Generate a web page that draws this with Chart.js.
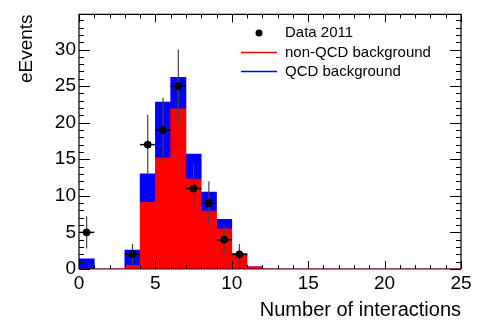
<!DOCTYPE html>
<html>
<head>
<meta charset="utf-8">
<script src="https://cdn.jsdelivr.net/npm/chart.js@4"></script>
<style>
  html, body { margin: 0; padding: 0; background: #fff; }
  #wrap { width: 482px; height: 322px; }
</style>
</head>
<body>
<div id="wrap"><canvas id="nint" width="482" height="322"></canvas></div>
<script>
const FONT = '"Liberation Sans", Arial, Helvetica, sans-serif';

// bin centres of the 25 unit-wide bins (0..25)
const binCenters = [0.5, 1.5, 2.5, 3.5, 4.5, 5.5, 6.5, 7.5, 8.5, 9.5, 10.5, 11.5, 12.5,
                    13.5, 14.5, 15.5, 16.5, 17.5, 18.5, 19.5, 20.5, 21.5, 22.5, 23.5, 24.5];

// stacked MC: non-QCD (red) at the bottom, QCD (blue) on top
const nonQcd = [0, 0, 0, 0.5, 9.1, 15.2, 21.9, 12.3, 7.9, 5.5, 1.9, 0.3, 0,
                0, 0, 0, 0, 0, 0, 0, 0, 0, 0, 0, 0];
const qcd    = [1.4, 0, 0, 2.1, 3.9, 7.6, 4.3, 3.4, 2.6, 1.3, 0.2, 0, 0,
                0, 0, 0, 0, 0, 0, 0, 0, 0, 0, 0, 0];

// Data 2011 (empty bins have no marker)
const dataCounts = [5, null, null, 2, 17, 19, 25, 11, 9, 4, 2, null, null,
                    null, null, null, null, null, null, null, null, null, null, null, null];
const dataErr    = [2.2, 0, 0, 1.4, 4.1, 4.4, 5, 3.3, 3, 2, 1.4, 0, 0,
                    0, 0, 0, 0, 0, 0, 0, 0, 0, 0, 0, 0];

const xTicks = [0, 5, 10, 15, 20, 25];
const yTicks = [0, 5, 10, 15, 20, 25, 30];

// error bars, frame with ROOT style ticks, legend
const rootStyle = {
    id: 'rootStyle',
    beforeDatasetDraw(chart, args) {
        if (args.index !== 2) return;
        const ctx = chart.ctx, xs = chart.scales.x, ys = chart.scales.y;
        ctx.save();
        binCenters.forEach((c, i) => {
            if (dataCounts[i] === null) return;
            const px = xs.getPixelForValue(c);
            const py = ys.getPixelForValue(dataCounts[i]);
            ctx.strokeStyle = '#444';
            ctx.lineWidth = 1.2;
            ctx.beginPath();
            ctx.moveTo(px, ys.getPixelForValue(dataCounts[i] - dataErr[i]));
            ctx.lineTo(px, ys.getPixelForValue(dataCounts[i] + dataErr[i]));
            ctx.stroke();
            ctx.strokeStyle = '#000';
            ctx.lineWidth = 1.5;
            ctx.beginPath();
            ctx.moveTo(xs.getPixelForValue(c - 0.5), py);
            ctx.lineTo(xs.getPixelForValue(c + 0.5), py);
            ctx.stroke();
        });
        ctx.restore();
    },
    afterDraw(chart) {
        const ctx = chart.ctx, a = chart.chartArea;
        const xs = chart.scales.x, ys = chart.scales.y;
        ctx.save();
        ctx.lineWidth = 1.2;
        ctx.strokeStyle = '#000';
        ctx.beginPath();
        ctx.moveTo(a.left, a.bottom);
        ctx.lineTo(a.left, a.top);
        ctx.lineTo(a.right, a.top);
        ctx.lineTo(a.right, a.bottom);
        ctx.stroke();
        ctx.strokeStyle = '#5a0000';
        ctx.beginPath();
        ctx.moveTo(a.left, a.bottom);
        ctx.lineTo(a.right, a.bottom);
        ctx.stroke();

        ctx.strokeStyle = '#000';
        ctx.lineWidth = 1;
        ctx.beginPath();
        for (let v = 0; v <= 25; v++) {
            const px = Math.round(xs.getPixelForValue(v)) + 0.5;
            const len = v % 5 === 0 ? 8 : 4;
            ctx.moveTo(px, a.bottom); ctx.lineTo(px, a.bottom - len);
            ctx.moveTo(px, a.top); ctx.lineTo(px, a.top + len);
        }
        for (let v = 0; v <= 34; v++) {
            const py = Math.round(ys.getPixelForValue(v)) + 0.5;
            const len = v % 5 === 0 ? 11 : 5;
            ctx.moveTo(a.left, py); ctx.lineTo(a.left + len, py);
            ctx.moveTo(a.right, py); ctx.lineTo(a.right - len, py);
        }
        ctx.stroke();

        // legend
        ctx.fillStyle = '#000';
        ctx.beginPath();
        ctx.arc(259, 33, 3.5, 0, Math.PI * 2);
        ctx.fill();
        ctx.lineWidth = 1.5;
        ctx.strokeStyle = '#ff0000';
        ctx.beginPath(); ctx.moveTo(241, 52.5); ctx.lineTo(277, 52.5); ctx.stroke();
        ctx.strokeStyle = '#0000ff';
        ctx.beginPath(); ctx.moveTo(241, 71.5); ctx.lineTo(277, 71.5); ctx.stroke();
        ctx.font = '15px ' + FONT;
        ctx.textBaseline = 'middle';
        ctx.fillText('Data 2011', 285, 33);
        ctx.fillText('non-QCD background', 285, 52.5);
        ctx.fillText('QCD background', 285, 71.5);
        ctx.restore();
    }
};

const ctx = document.getElementById('nint').getContext('2d');
new Chart(ctx, {
    type: 'bar',
    data: {
        datasets: [
            {
                label: 'non-QCD background',
                data: binCenters.map((c, i) => ({ x: c, y: nonQcd[i] })),
                backgroundColor: '#ff0000',
                borderWidth: 0,
                barPercentage: 1,
                categoryPercentage: 1,
                stack: 'mc',
                order: 1
            },
            {
                label: 'QCD background',
                data: binCenters.map((c, i) => ({ x: c, y: qcd[i] })),
                backgroundColor: '#0000ff',
                borderWidth: 0,
                barPercentage: 1,
                categoryPercentage: 1,
                stack: 'mc',
                order: 2
            },
            {
                type: 'scatter',
                label: 'Data 2011',
                data: binCenters.map((c, i) => ({ x: c, y: dataCounts[i] })),
                backgroundColor: '#000',
                borderColor: '#000',
                pointRadius: 3.5,
                pointHoverRadius: 3.5,
                stack: 'data',
                order: 0
            }
        ]
    },
    options: {
        responsive: false,
        animation: false,
        devicePixelRatio: 1,
        layout: { padding: { top: 7, right: 21, left: 0, bottom: 0 } },
        plugins: { legend: { display: false }, tooltip: { enabled: false } },
        scales: {
            x: {
                type: 'linear',
                min: 0,
                max: 25,
                offset: false,
                stacked: true,
                grid: { display: false, drawTicks: false },
                border: { display: false },
                afterBuildTicks: s => { s.ticks = xTicks.map(v => ({ value: v })); },
                ticks: { color: '#000', font: { family: FONT, size: 19 }, padding: 3, maxRotation: 0, autoSkip: false },
                title: {
                    display: true, text: 'Number of interactions', align: 'end', color: '#000',
                    font: { family: FONT, size: 20 }, padding: { top: 9, bottom: 0 }
                },
                afterFit: s => { s.height = 53; }
            },
            y: {
                min: 0,
                max: 34.8,
                stacked: true,
                grid: { display: false, drawTicks: false },
                border: { display: false },
                afterBuildTicks: s => { s.ticks = yTicks.map(v => ({ value: v })); },
                ticks: { color: '#000', font: { family: FONT, size: 19 }, padding: 3 },
                title: {
                    display: true, text: 'eEvents', align: 'end', color: '#000',
                    font: { family: FONT, size: 19 }, padding: { top: 15, bottom: 0 }
                },
                afterFit: s => { s.width = 79; }
            }
        }
    },
    plugins: [rootStyle]
});
</script>
</body>
</html>
